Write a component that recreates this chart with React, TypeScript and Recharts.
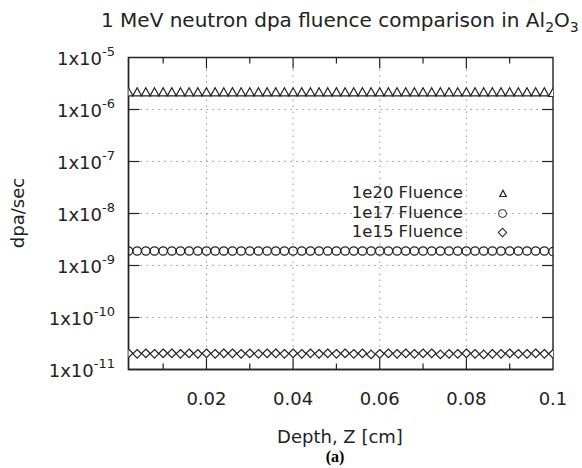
import React from 'react';
import {
  ScatterChart,
  Scatter,
  XAxis,
  YAxis,
  ReferenceLine,
  ReferenceArea,
} from 'recharts';

const depth = [
  0.002, 0.004, 0.006, 0.008, 0.01, 0.012, 0.014, 0.016, 0.018, 0.02,
  0.022, 0.024, 0.026, 0.028, 0.03, 0.032, 0.034, 0.036, 0.038, 0.04,
  0.042, 0.044, 0.046, 0.048, 0.05, 0.052, 0.054, 0.056, 0.058, 0.06,
  0.062, 0.064, 0.066, 0.068, 0.07, 0.072, 0.074, 0.076, 0.078, 0.08,
  0.082, 0.084, 0.086, 0.088, 0.09, 0.092, 0.094, 0.096, 0.098, 0.1,
];

const fluence1e20 = [
  2.1e-6, 2.1e-6, 2.1e-6, 2.1e-6, 2.1e-6, 2.1e-6, 2.1e-6, 2.1e-6, 2.1e-6, 2.1e-6,
  2.1e-6, 2.1e-6, 2.1e-6, 2.1e-6, 2.1e-6, 2.1e-6, 2.1e-6, 2.1e-6, 2.1e-6, 2.1e-6,
  2.1e-6, 2.1e-6, 2.1e-6, 2.1e-6, 2.1e-6, 2.1e-6, 2.1e-6, 2.1e-6, 2.1e-6, 2.1e-6,
  2.1e-6, 2.1e-6, 2.1e-6, 2.1e-6, 2.1e-6, 2.1e-6, 2.1e-6, 2.1e-6, 2.1e-6, 2.1e-6,
  2.1e-6, 2.1e-6, 2.1e-6, 2.1e-6, 2.1e-6, 2.1e-6, 2.1e-6, 2.1e-6, 2.1e-6, 2.05e-6,
];

const fluence1e17 = [
  1.9e-9, 1.9e-9, 1.9e-9, 1.9e-9, 1.9e-9, 1.9e-9, 1.9e-9, 1.9e-9, 1.9e-9, 1.9e-9,
  1.9e-9, 1.9e-9, 1.9e-9, 1.9e-9, 1.9e-9, 1.9e-9, 1.9e-9, 1.9e-9, 1.9e-9, 1.9e-9,
  1.9e-9, 1.9e-9, 1.9e-9, 1.9e-9, 1.9e-9, 1.9e-9, 1.9e-9, 1.9e-9, 1.9e-9, 1.9e-9,
  1.9e-9, 1.9e-9, 1.9e-9, 1.9e-9, 1.9e-9, 1.9e-9, 1.9e-9, 1.9e-9, 1.9e-9, 1.9e-9,
  1.9e-9, 1.9e-9, 1.9e-9, 1.9e-9, 1.9e-9, 1.9e-9, 1.9e-9, 1.9e-9, 1.9e-9, 1.85e-9,
];

const fluence1e15 = [
  2.05e-11, 2.0e-11, 2.05e-11, 2.0e-11, 2.05e-11, 2.05e-11, 2.0e-11, 2.05e-11, 2.0e-11, 2.05e-11,
  2.0e-11, 2.05e-11, 2.05e-11, 2.0e-11, 2.05e-11, 2.0e-11, 2.05e-11, 2.05e-11, 2.0e-11, 2.05e-11,
  2.0e-11, 2.05e-11, 2.0e-11, 2.05e-11, 2.0e-11, 2.05e-11, 2.0e-11, 2.05e-11, 1.95e-11, 2.0e-11,
  2.05e-11, 2.0e-11, 2.05e-11, 2.0e-11, 2.05e-11, 2.05e-11, 1.95e-11, 2.0e-11, 2.0e-11, 2.05e-11,
  2.0e-11, 1.95e-11, 2.0e-11, 2.0e-11, 2.05e-11, 2.0e-11, 2.0e-11, 2.05e-11, 2.0e-11, 2.0e-11,
];

const xDomain = [0.002, 0.1];
const yDomain = [1e-11, 1e-5];
const xTicks = [0.02, 0.04, 0.06, 0.08, 0.1];
const xTickLabels = ['0.02', '0.04', '0.06', '0.08', '0.1'];
const xGrid = [0.02, 0.04, 0.06, 0.08];
const xMinor = [0.01, 0.03, 0.05, 0.07, 0.09];
const yTicks = [1e-11, 1e-10, 1e-9, 1e-8, 1e-7, 1e-6, 1e-5];
const yGrid = [1e-10, 1e-9, 1e-8, 1e-7, 1e-6];
const legendNames = ['1e20 Fluence', '1e17 Fluence', '1e15 Fluence'];

const FONT = '"DejaVu Sans", sans-serif';
const INK = '#222';
const GRID = '#999';

const triangle = (p: any) => (
  <path
    d={`M${p.cx},${p.cy - 5} L${p.cx + 4.5},${p.cy + 3.2} L${p.cx - 4.5},${p.cy + 3.2} Z`}
    fill="#fff"
    stroke={INK}
    strokeWidth={1.2}
  />
);
const circle = (p: any) => (
  <circle cx={p.cx} cy={p.cy} r={4.2} fill="none" stroke={INK} strokeWidth={1.2} />
);
const diamond = (p: any) => (
  <path
    d={`M${p.cx},${p.cy - 4.3} L${p.cx + 4.3},${p.cy} L${p.cx},${p.cy + 4.3} L${p.cx - 4.3},${p.cy} Z`}
    fill="#fff"
    stroke={INK}
    strokeWidth={1.2}
  />
);

const series = [
  { name: legendNames[0], values: fluence1e20, shape: triangle },
  { name: legendNames[1], values: fluence1e17, shape: circle },
  { name: legendNames[2], values: fluence1e15, shape: diamond },
];

// vertical reference line: optional dotted grid + inward ticks at top and bottom
const vMark = (len: number, grid: boolean) => (p: any) => {
  const top = Math.min(p.y1, p.y2);
  const bot = Math.max(p.y1, p.y2);
  return (
    <g>
      {grid && (
        <line x1={p.x1} x2={p.x1} y1={top} y2={bot} stroke={GRID} strokeWidth={1} strokeDasharray="1.5 4.5" />
      )}
      <line x1={p.x1} x2={p.x1} y1={bot} y2={bot - len} stroke={INK} strokeWidth={1.2} />
      <line x1={p.x1} x2={p.x1} y1={top} y2={top + len} stroke={INK} strokeWidth={1.2} />
    </g>
  );
};

// horizontal reference line: dotted grid + inward ticks left and right
const hMark = (p: any) => {
  const l = Math.min(p.x1, p.x2);
  const r = Math.max(p.x1, p.x2);
  return (
    <g>
      <line x1={l} x2={r} y1={p.y1} y2={p.y1} stroke={GRID} strokeWidth={1} strokeDasharray="1.5 4.5" />
      <line x1={l} x2={l + 11} y1={p.y1} y2={p.y1} stroke={INK} strokeWidth={1.2} />
      <line x1={r} x2={r - 11} y1={p.y1} y2={p.y1} stroke={INK} strokeWidth={1.2} />
    </g>
  );
};

const BottomTick = (props: any) => {
  const { x, y, index } = props;
  return (
    <text x={x} y={y + 35} textAnchor="middle" fontFamily={FONT} fontSize={18} fill={INK} stroke="none">
      {xTickLabels[index]}
    </text>
  );
};

const LeftTick = (props: any) => {
  const { y, payload } = props;
  const exp = Math.round(Math.log10(payload.value));
  return (
    <text x={115} y={y + 7} textAnchor="end" fontFamily={FONT} fontSize={18} fill={INK} stroke="none">
      1x10
      <tspan fontSize={13} dy={-9}>
        {exp}
      </tspan>
    </text>
  );
};

// legend markers drawn with css, so the page holds no svg besides the chart
const legendMarker = (i: number) => {
  if (i === 0) {
    return (
      <div style={{ position: 'absolute', left: -4.5, top: -5, width: 9, height: 8.4, background: INK, clipPath: 'polygon(50% 0, 100% 100%, 0 100%)' }}>
        <div style={{ position: 'absolute', left: 2.1, top: 2.6, width: 4.8, height: 4.6, background: '#fff', clipPath: 'polygon(50% 0, 100% 100%, 0 100%)' }} />
      </div>
    );
  }
  if (i === 1) {
    return (
      <div style={{ position: 'absolute', left: -4.8, top: -4.8, width: 7.2, height: 7.2, border: `1.2px solid ${INK}`, borderRadius: '50%' }} />
    );
  }
  return (
    <div style={{ position: 'absolute', left: -3.6, top: -3.6, width: 5, height: 5, border: `1.2px solid ${INK}`, transform: 'rotate(45deg)' }} />
  );
};

const textStyle = (fs: number): React.CSSProperties => ({
  position: 'absolute',
  fontFamily: FONT,
  fontSize: fs,
  lineHeight: `${fs}px`,
  color: INK,
  whiteSpace: 'nowrap',
});

export default function App() {
  return (
    <div style={{ position: 'absolute', left: 0, top: 0, width: 582, height: 468, background: '#fff' }}>
      <ScatterChart
        width={582}
        height={468}
        margin={{ top: 57.5, right: 29, bottom: 58.5, left: 0 }}
      >
        <XAxis
          xAxisId="b"
          dataKey="x"
          type="number"
          domain={xDomain}
          ticks={xTicks}
          interval={0}
          allowDataOverflow
          height={40}
          tickSize={0}
          tickMargin={0}
          tickLine={false}
          axisLine={{ stroke: INK, strokeWidth: 1.4 }}
          tick={<BottomTick />}
        />
        <YAxis
          yAxisId="l"
          dataKey="y"
          type="number"
          scale="log"
          domain={yDomain}
          ticks={yTicks}
          interval={0}
          allowDataOverflow
          width={128.5}
          tickSize={0}
          tickMargin={0}
          tickLine={false}
          axisLine={{ stroke: INK, strokeWidth: 1.4 }}
          tick={<LeftTick />}
        />
        {xGrid.map((g) => (
          <ReferenceLine key={`gx-${g}`} xAxisId="b" yAxisId="l" x={g} shape={vMark(11, true)} />
        ))}
        {xMinor.map((g) => (
          <ReferenceLine key={`mx-${g}`} xAxisId="b" yAxisId="l" x={g} shape={vMark(6, false)} />
        ))}
        {yGrid.map((g) => (
          <ReferenceLine key={`gy-${g}`} xAxisId="b" yAxisId="l" y={g} shape={hMark} />
        ))}
        <ReferenceArea
          xAxisId="b"
          yAxisId="l"
          x1={xDomain[0]}
          x2={xDomain[1]}
          y1={yDomain[0]}
          y2={yDomain[1]}
          ifOverflow="visible"
          fill="none"
          fillOpacity={0}
          stroke={INK}
          strokeWidth={1.4}
          strokeOpacity={1}
        />
        {series.map((s) => (
          <Scatter
            key={s.name}
            name={s.name}
            xAxisId="b"
            yAxisId="l"
            data={depth.map((x, i) => ({ x, y: s.values[i] }))}
            shape={s.shape}
            isAnimationActive={false}
          />
        ))}
      </ScatterChart>

      <div style={{ ...textStyle(20), left: 101, top: 10.1 }}>
        1 MeV neutron dpa fluence comparison in Al
        <span style={{ fontSize: 14, position: 'relative', top: 5 }}>2</span>O
        <span style={{ fontSize: 14, position: 'relative', top: 5 }}>3</span>
      </div>

      <div
        style={{
          ...textStyle(18),
          left: 17.8 - 50,
          top: 213 - 9,
          width: 100,
          height: 18,
          textAlign: 'center',
          transform: 'rotate(-90deg)',
        }}
      >
        dpa/sec
      </div>

      <div style={{ ...textStyle(18), left: 240, top: 443 - 15.2, width: 200, textAlign: 'center' }}>
        Depth, Z [cm]
      </div>

      <div
        style={{
          position: 'absolute',
          left: 285,
          top: 448.6,
          width: 100,
          textAlign: 'center',
          fontFamily: '"Liberation Serif", "Times New Roman", serif',
          fontWeight: 'bold',
          fontSize: 16,
          lineHeight: '16px',
          color: '#000',
        }}
      >
        (a)
      </div>

      <div style={{ position: 'absolute', left: 340, top: 180, width: 200, height: 70 }}>
        {series.map((s, i) => (
          <React.Fragment key={s.name}>
            <div style={{ ...textStyle(16.5), left: 0, top: 5 + i * 19.5, width: 123, textAlign: 'right' }}>
              {s.name}
            </div>
            <div style={{ position: 'absolute', left: 163, top: 14 + i * 19.5, width: 0, height: 0 }}>
              {legendMarker(i)}
            </div>
          </React.Fragment>
        ))}
      </div>
    </div>
  );
}
